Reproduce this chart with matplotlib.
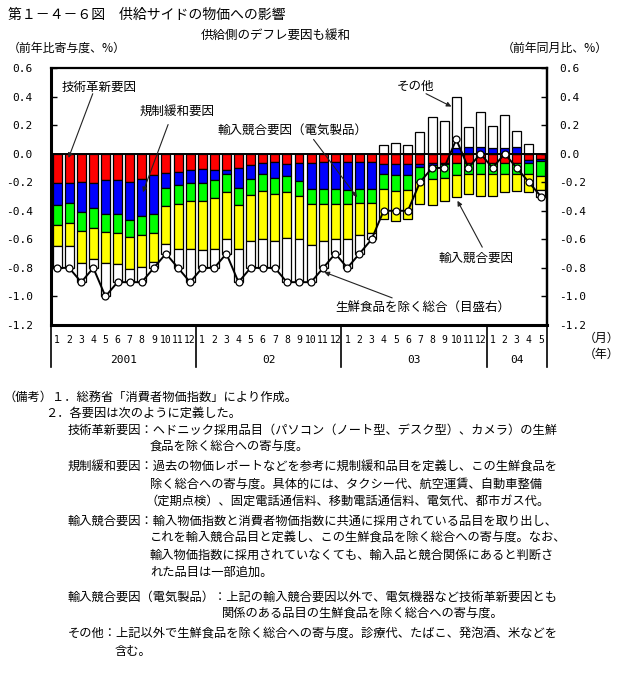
import matplotlib

matplotlib.use("Agg")  # headless
import matplotlib.pyplot as plt  # noqa: E402
import matplotlib.transforms as mtransforms  # noqa: E402
import numpy as np  # noqa: E402

plt.rcParams["font.family"] = ["Noto Sans CJK JP", "DejaVu Sans"]

W, H = 632, 685  # output size in pixels (dpi 100)

# --- data ----------------------------------------------------------------
months = [1, 2, 3, 4, 5, 6, 7, 8, 9, 10, 11, 12,
          1, 2, 3, 4, 5, 6, 7, 8, 9, 10, 11, 12,
          1, 2, 3, 4, 5, 6, 7, 8, 9, 10, 11, 12,
          1, 2, 3, 4, 5]
years = ["2001", "02", "03", "04"]

# contributions (前年比寄与度, %)
tech = [-0.208, -0.203, -0.196, -0.203, -0.187, -0.187, -0.196, -0.175, -0.152, -0.133, -0.128, -0.117,
        -0.110, -0.113, -0.113, -0.098, -0.080, -0.063, -0.056, -0.070, -0.063, -0.063, -0.059, -0.059,
        -0.059, -0.059, -0.059, -0.075, -0.075, -0.075, -0.075, -0.063, -0.063, -0.063, -0.063, -0.063,
        -0.063, -0.063, -0.063, -0.047, -0.040]
dereg = [-0.151, -0.145, -0.210, -0.181, -0.235, -0.235, -0.266, -0.263, -0.271, -0.105, -0.092, -0.091,
         -0.096, -0.074, -0.032, -0.140, -0.095, -0.082, -0.112, -0.086, -0.128, -0.187, -0.191, -0.191,
         -0.195, -0.186, -0.186, -0.070, -0.075, -0.075, -0.020, -0.017, -0.012, 0.037, 0.050, 0.047,
         0.040, 0.037, 0.050, -0.016, -0.010]
elec = [-0.141, -0.137, -0.138, -0.138, -0.125, -0.135, -0.123, -0.135, -0.135, -0.128, -0.130, -0.123,
        -0.128, -0.126, -0.123, -0.124, -0.114, -0.116, -0.112, -0.112, -0.105, -0.105, -0.105, -0.105,
        -0.101, -0.103, -0.103, -0.105, -0.110, -0.105, -0.100, -0.100, -0.095, -0.087, -0.077, -0.077,
        -0.077, -0.077, -0.077, -0.082, -0.106]
imports = [-0.146, -0.161, -0.221, -0.213, -0.221, -0.217, -0.220, -0.222, -0.199, -0.266, -0.317, -0.340,
           -0.342, -0.352, -0.332, -0.303, -0.322, -0.338, -0.331, -0.324, -0.299, -0.288, -0.255, -0.245,
           -0.245, -0.222, -0.207, -0.210, -0.215, -0.205, -0.160, -0.180, -0.160, -0.150, -0.145, -0.155,
           -0.155, -0.130, -0.120, -0.125, -0.100]
other = [-0.154, -0.154, -0.135, -0.065, -0.232, -0.126, -0.095, -0.105, -0.043, -0.068, -0.133, -0.229,
         -0.124, -0.135, -0.100, -0.235, -0.189, -0.201, -0.189, -0.308, -0.305, -0.257, -0.190, -0.100,
         -0.200, -0.130, -0.045, 0.060, 0.075, 0.060, 0.155, 0.260, 0.230, 0.363, 0.135, 0.248,
         0.155, 0.233, 0.110, 0.070, -0.044]
# 生鮮食品を除く総合 (前年同月比, %)
core_cpi = [-0.8, -0.8, -0.9, -0.8, -1.0, -0.9, -0.9, -0.9, -0.8, -0.7, -0.8, -0.9,
            -0.8, -0.8, -0.7, -0.9, -0.8, -0.8, -0.8, -0.9, -0.9, -0.9, -0.8, -0.7,
            -0.8, -0.7, -0.6, -0.4, -0.4, -0.4, -0.2, -0.1, -0.1, 0.1, -0.1, 0.0,
            -0.1, 0.0, -0.1, -0.2, -0.3]

SERIES = [(tech, "#ff0000"), (dereg, "#0000ff"), (elec, "#00ff00"),
          (imports, "#ffff00"), (other, "#ffffff")]

NOTES = [
    (3, 397, "（備考）１．総務省「消費者物価指数」により作成。"),
    (45, 413, "２．各要因は次のように定義した。"),
    (68, 430, "技術革新要因：ヘドニック採用品目（パソコン（ノート型、デスク型）、カメラ）の生鮮"),
    (150, 447, "食品を除く総合への寄与度。"),
    (68, 467, "規制緩和要因：過去の物価レポートなどを参考に規制緩和品目を定義し、この生鮮食品を"),
    (150, 484, "除く総合への寄与度。具体的には、タクシー代、航空運賃、自動車整備"),
    (146, 501, "（定期点検）、固定電話通信料、移動電話通信料、電気代、都市ガス代。"),
    (68, 521, "輸入競合要因：輸入物価指数と消費者物価指数に共通に採用されている品目を取り出し、"),
    (150, 538, "これを輸入競合品目と定義し、この生鮮食品を除く総合への寄与度。なお、"),
    (150, 555, "輸入物価指数に採用されていなくても、輸入品と競合関係にあると判断さ"),
    (150, 572, "れた品目は一部追加。"),
    (68, 597, "輸入競合要因（電気製品）：上記の輸入競合要因以外で、電気機器など技術革新要因とも"),
    (222, 614, "関係のある品目の生鮮食品を除く総合への寄与度。"),
    (68, 634, "その他：上記以外で生鮮食品を除く総合への寄与度。診療代、たばこ、発泡酒、米などを"),
    (115, 651, "含む。"),
]

fig = plt.figure(figsize=(W / 100, H / 100), dpi=100)


def ftext(px, py, s, **kw):
    kw.setdefault("va", "center")
    fig.text(px / W, 1 - py / H, s, **kw)


ax = fig.add_axes([51 / W, 1 - 325 / H, 496 / W, 257 / H])
x = np.arange(len(months))

# stacked bars: positives build up from 0, negatives build down from 0
pos_base = np.zeros(len(x))
neg_base = np.zeros(len(x))
for vals, color in SERIES:
    v = np.array(vals)
    bottom = np.where(v >= 0, pos_base, neg_base)
    ax.bar(x, v, 0.74, bottom=bottom, color=color, edgecolor="black", linewidth=0.9, zorder=2)
    pos_base += np.clip(v, 0, None)
    neg_base += np.clip(v, None, 0)

ax.plot(x, core_cpi, color="black", lw=1.4, marker="o", ms=5, mfc="white",
        mec="black", mew=0.9, zorder=4)
ax.axhline(0, color="black", lw=1.4, zorder=3)

ax.set_xlim(-0.5, len(x) - 0.5)
ax.set_ylim(-1.2, 0.6)
yt = np.round(np.arange(-1.2, 0.61, 0.2), 1)
ylabels = [f"{t:.1f}".replace("-0.0", "0.0") for t in yt]
ax.set_yticks(yt, labels=ylabels, fontfamily="DejaVu Sans Mono", fontsize=8)
ax.tick_params(axis="y", direction="in", length=4, width=1, pad=13)
ax.set_xticks(x, labels=[str(m) for m in months], fontfamily="DejaVu Sans Mono", fontsize=7)
ax.tick_params(axis="x", length=0, pad=7)
for side, lw in (("left", 2.2), ("right", 1.6), ("top", 1.6), ("bottom", 2.2)):
    ax.spines[side].set_linewidth(lw)

ax2 = ax.twinx()
ax2.set_ylim(ax.get_ylim())
ax2.set_yticks(yt, labels=ylabels, fontfamily="DejaVu Sans Mono", fontsize=8)
ax2.tick_params(axis="y", direction="in", length=4, width=1, pad=9)
for side in ("left", "top", "bottom"):
    ax2.spines[side].set_visible(False)
ax2.spines["right"].set_linewidth(1.6)

# year separators below the axis and year labels
trans = mtransforms.blended_transform_factory(ax.transData, ax.transAxes)
starts = [i for i, m in enumerate(months) if m == 1]
bounds = [s - 0.5 for s in starts] + [len(months) - 0.5]
for b in bounds:
    ax.plot([b, b], [0, -0.165], transform=trans, clip_on=False, color="black", lw=1.2)
for yr, a, b in zip(years, bounds[:-1], bounds[1:]):
    ax.text((a + b) / 2, -0.137, yr, transform=trans, ha="center", va="center",
            fontfamily="DejaVu Sans Mono", fontsize=8)

# annotations
ann_font = dict(fontsize=9, ha="center", va="center", zorder=6)
arrow = dict(arrowstyle="-|>", color="#222222", lw=0.8, mutation_scale=7, shrinkA=0, shrinkB=0)
labels = [
    ("技術革新要因", (3.47, 0.465), (2.95, 0.42), (0.95, -0.03)),
    ("規制緩和要因", (9.92, 0.295), (9.18, 0.204), (7.1, -0.27)),
    ("輸入競合要因（電気製品）", (19.5, 0.162), (21.2, 0.10), (24.8, -0.305)),
    ("その他", (29.6, 0.47), (30.5, 0.42), (32.6, 0.33)),
    ("輸入競合要因", (34.6, -0.732), (35.15, -0.655), (33.1, -0.33)),
    ("生鮮食品を除く総合（目盛右）", (30.2, -1.08), (27.7, -1.01), (22.1, -0.83)),
]
for s, txt_xy, start, tip in labels:
    ax.text(*txt_xy, s, **ann_font)
    ax.annotate("", xy=tip, xytext=start, arrowprops=arrow, zorder=6)

# titles and unit labels
ftext(8, 15, "第１－４－６図　供給サイドの物価への影響", fontsize=10)
ftext(276, 35, "供給側のデフレ要因も緩和", fontsize=9, ha="center")
ftext(8, 48, "（前年比寄与度、%）", fontsize=8.6)
ftext(608, 48, "（前年同月比、%）", fontsize=8.6, ha="right")
ftext(602, 338, "（月）", fontsize=8.6, ha="center")
ftext(602, 354, "（年）", fontsize=8.6, ha="center")

for px, py, s in NOTES:
    ftext(px, py, s, fontsize=8.8)

fig.savefig("out.png", dpi=100)
